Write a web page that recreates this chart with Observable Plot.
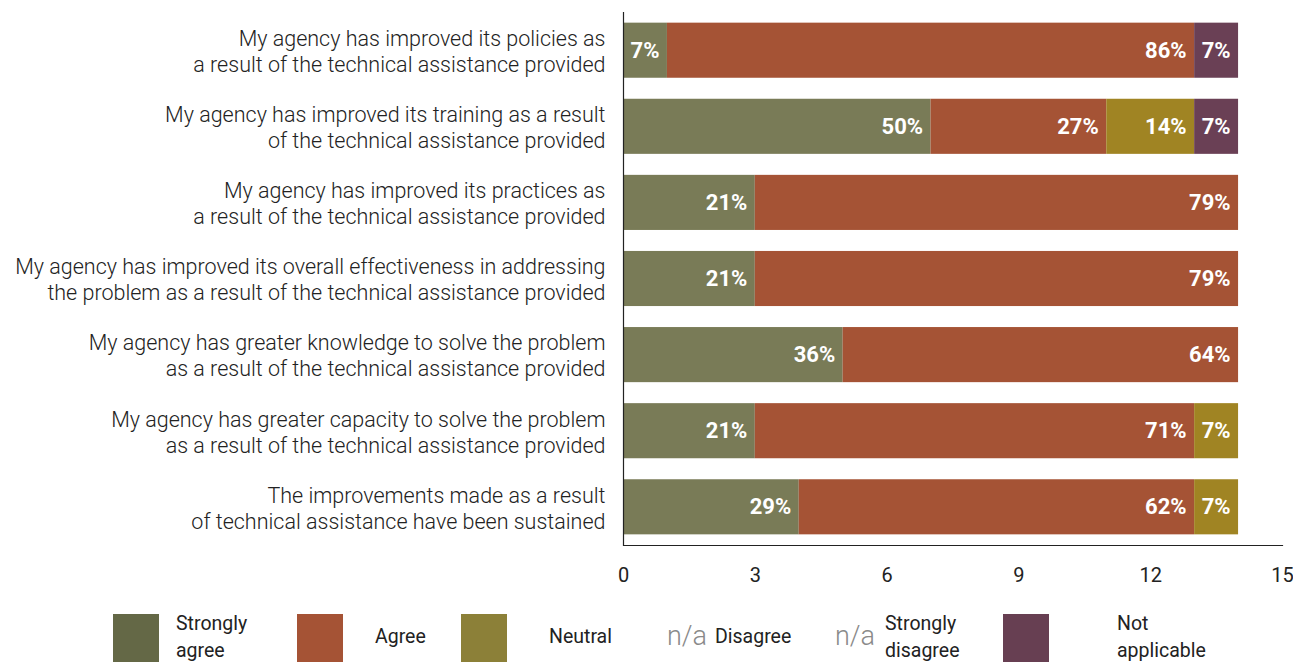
<!DOCTYPE html>
<html>
<head>
<meta charset="utf-8">
<script src="https://cdn.jsdelivr.net/npm/d3@7"></script>
<script src="https://cdn.jsdelivr.net/npm/@observablehq/plot@0.6"></script>
<style>
  html, body { margin: 0; padding: 0; background: #fff; }
  #wrap { position: relative; width: 1293px; height: 662px; font-family: Roboto, "Liberation Sans", sans-serif; color: #222; }
  #legend { position: absolute; left: 0; top: 0; width: 1293px; height: 662px; pointer-events: none; }
  .sw { position: absolute; top: 614px; width: 46px; height: 48px; }
  .lt { position: absolute; font-size: 19.5px; line-height: 27px; color: #222; }
  .na { position: absolute; font-size: 27px; color: #8a8a8a; top: 620px; font-weight: 300; }
</style>
</head>
<body>
<div id="wrap">
  <div id="chart"></div>
  <div id="legend"></div>
</div>
<script>
const categories = [
  "My agency has improved its policies as\na result of the technical assistance provided",
  "My agency has improved its training as a result\nof the technical assistance provided",
  "My agency has improved its practices as\na result of the technical assistance provided",
  "My agency has improved its overall effectiveness in addressing\nthe problem as a result of the technical assistance provided",
  "My agency has greater knowledge to solve the problem\nas a result of the technical assistance provided",
  "My agency has greater capacity to solve the problem\nas a result of the technical assistance provided",
  "The improvements made as a result\nof technical assistance have been sustained"
];
const responses = ["Strongly agree", "Agree", "Neutral", "Disagree", "Strongly disagree", "Not applicable"];
const stronglyAgree = [1, 7, 3, 3, 5, 3, 4];
const agree = [12, 4, 11, 11, 9, 10, 9];
const neutral = [0, 2, 0, 0, 0, 1, 1];
const disagree = [0, 0, 0, 0, 0, 0, 0];
const stronglyDisagree = [0, 0, 0, 0, 0, 0, 0];
const notApplicable = [1, 1, 0, 0, 0, 0, 0];
const stronglyAgreeLabels = ["7%", "50%", "21%", "21%", "36%", "21%", "29%"];
const agreeLabels = ["86%", "27%", "79%", "79%", "64%", "71%", "62%"];
const neutralLabels = ["", "14%", "", "", "", "7%", "7%"];
const notApplicableLabels = ["7%", "7%", "", "", "", "", ""];
const xTicks = [0, 3, 6, 9, 12, 15];
const barColors = ["#797b57", "#a55335", "#a08423", "#888888", "#555555", "#6a4055"];
const legendColors = ["#646846", "#a55335", "#8c8038", null, null, "#673f52"];

const series = [stronglyAgree, agree, neutral, disagree, stronglyDisagree, notApplicable];
const seriesLabels = [stronglyAgreeLabels, agreeLabels, neutralLabels, null, null, notApplicableLabels];
const data = [];
categories.forEach((c, i) => {
  responses.forEach((r, j) => {
    data.push({category: c, response: r, value: series[j][i], label: seriesLabels[j] ? seriesLabels[j][i] : ""});
  });
});
const seps = categories.map((c, i) => ({category: c, x: stronglyAgree[i] + agree[i] + neutral[i]}));

const plot = Plot.plot({
  width: 1293,
  height: 600,
  marginLeft: 623,
  marginRight: 11,
  marginTop: 12,
  marginBottom: 55,
  style: {fontFamily: "Roboto, 'Liberation Sans', sans-serif", color: "#222", background: "#fff"},
  x: {domain: [0, 15], ticks: xTicks, label: null},
  y: {domain: categories, label: null, paddingInner: 0.276, paddingOuter: 0.14, round: false},
  color: {domain: responses, range: barColors},
  marks: [
    Plot.barX(data, Plot.stackX({x: "value", y: "category", fill: "response", order: responses, inset: 0})),
    Plot.ruleX(seps, {x: "x", y: "category", stroke: "#555", strokeWidth: 1.2}),
    Plot.text(data, Plot.stackX2({x: "value", y: "category", z: "response", order: responses, text: "label",
      textAnchor: "end", dx: -8, fill: "white", fontWeight: "bold", fontSize: 22})),
    Plot.ruleX([0], {stroke: "#222", strokeWidth: 1.2}),
    Plot.frame({anchor: "bottom", stroke: "#222", strokeWidth: 1.2}),
    Plot.axisX({ticks: xTicks, tickSize: 0, tickPadding: 22, fontSize: 20, label: null, fill: "#222"}),
    Plot.axisY({tickSize: 0, tickPadding: 18, fontSize: 21.5, fontWeight: 300, lineHeight: 1.21, label: null, fill: "#222", textOverflow: null})
  ]
});
document.getElementById("chart").appendChild(plot);

const legend = document.getElementById("legend");
const items = [
  {sw: 113, tx: 176, text: "Strongly<br>agree", two: true},
  {sw: 297, tx: 375, text: "Agree"},
  {sw: 461, tx: 549, text: "Neutral"},
  {na: 667, tx: 715, text: "Disagree"},
  {na: 835, tx: 885, text: "Strongly<br>disagree", two: true},
  {sw: 1003, tx: 1117, text: "Not<br>applicable", two: true}
];
items.forEach((it, i) => {
  if (it.sw != null) {
    const d = document.createElement("div");
    d.className = "sw";
    d.style.left = it.sw + "px";
    d.style.background = legendColors[i];
    legend.appendChild(d);
  } else {
    const n = document.createElement("div");
    n.className = "na";
    n.style.left = it.na + "px";
    n.textContent = "n/a";
    legend.appendChild(n);
  }
  const t = document.createElement("div");
  t.className = "lt";
  t.style.left = it.tx + "px";
  t.style.top = (it.two ? 610 : 623) + "px";
  t.innerHTML = it.text;
  legend.appendChild(t);
});
</script>
</body>
</html>
